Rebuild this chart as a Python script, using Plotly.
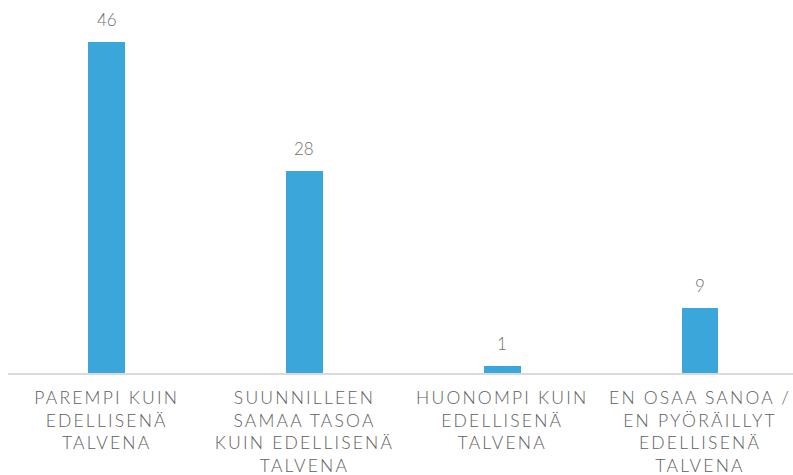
import plotly.graph_objects as go

categories = [
    "PAREMPI KUIN<br>EDELLISENÄ<br>TALVENA",
    "SUUNNILLEEN<br>SAMAA TASOA<br>KUIN EDELLISENÄ<br>TALVENA",
    "HUONOMPI KUIN<br>EDELLISENÄ<br>TALVENA",
    "EN OSAA SANOA /<br>EN PYÖRÄILLYT<br>EDELLISENÄ<br>TALVENA",
]
values = [46, 28, 1, 9]

bar_color = "#3AA6DA"

fig = go.Figure()
fig.add_trace(go.Bar(
    x=categories, y=values,
    marker=dict(color=bar_color, line=dict(width=0)),
    width=0.186,
    hoverinfo="skip",
))

for c, v in zip(categories, values):
    fig.add_annotation(
        x=c, y=v, text=str(v), showarrow=False,
        yanchor="bottom", yshift=10,
        font=dict(family="Lato", size=17, color="#6F6F6F", weight=300),
    )

fig.update_layout(
    width=793, height=475,
    margin=dict(l=8, r=0, t=13, b=102),
    paper_bgcolor="white", plot_bgcolor="white",
    showlegend=False,
    bargap=0,
    xaxis=dict(
        type="category",
        range=[-0.499, 3.47],
        showline=True, linecolor="#D9D9D9", linewidth=1.5,
        showgrid=False, ticks="", ticklabelstandoff=8,
        tickfont=dict(family="Lato", size=17.5, color="#5E5E5E", weight=300),
        fixedrange=True,
    ),
    yaxis=dict(
        range=[0, 50], visible=False, showgrid=False, zeroline=False,
        fixedrange=True,
    ),
)

post = ("document.body.style.margin='0';"
        "document.querySelectorAll('.xtick text').forEach(function(t){"
        "t.style.letterSpacing='2.2px';});")
fig.write_html("out.html", post_script=post, config={"displayModeBar": False})
